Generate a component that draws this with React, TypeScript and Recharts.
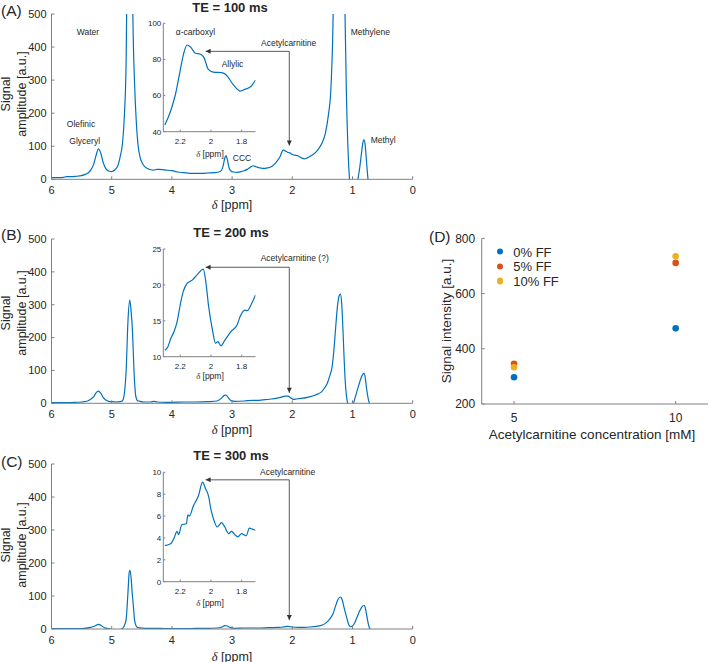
import React from "react";
import { LineChart, Line, XAxis, YAxis, ReferenceLine, ReferenceDot, ScatterChart, Scatter } from "recharts";

// [ppm, amplitude]
const spectrumA = [
  [6.0, 5], [5.9, 5], [5.8, 6], [5.75, 8], [5.7, 8], [5.6, 9], [5.5, 11], [5.45, 14], [5.4, 18], [5.35, 28],
  [5.3, 45], [5.26, 72], [5.22, 92], [5.18, 78], [5.14, 50], [5.1, 33], [5.05, 25], [5.0, 23], [4.95, 28],
  [4.9, 40], [4.86, 68], [4.82, 110], [4.79, 190], [4.76, 360], [4.74, 700], [4.71, 1500], [4.68, 1200],
  [4.65, 520], [4.62, 290], [4.59, 170], [4.56, 100], [4.53, 68], [4.48, 45], [4.42, 34], [4.35, 29],
  [4.3, 28], [4.25, 30], [4.2, 30], [4.15, 29], [4.1, 28], [4.0, 26], [3.9, 22], [3.8, 20], [3.7, 18],
  [3.6, 18], [3.5, 18], [3.4, 19], [3.3, 20], [3.22, 22], [3.18, 26], [3.15, 40], [3.12, 65], [3.1, 72],
  [3.08, 60], [3.05, 35], [3.02, 25], [2.98, 22], [2.92, 21], [2.85, 23], [2.8, 26], [2.75, 30], [2.7, 36],
  [2.65, 41], [2.6, 38], [2.55, 35], [2.5, 33], [2.45, 33], [2.4, 35], [2.35, 38], [2.3, 45], [2.25, 56],
  [2.2, 70], [2.17, 84], [2.15, 89], [2.12, 86], [2.08, 82], [2.04, 80], [2.0, 75], [1.96, 73], [1.92, 72],
  [1.88, 68], [1.84, 64], [1.8, 62], [1.76, 64], [1.7, 70], [1.65, 76], [1.6, 84], [1.55, 96], [1.5, 112],
  [1.45, 140], [1.4, 195], [1.36, 270], [1.33, 420], [1.3, 700], [1.25, 1400], [1.2, 2000], [1.16, 1200],
  [1.13, 560], [1.1, 250], [1.07, 70], [1.05, 0], [1.02, -60], [0.98, -80], [0.94, -40], [0.91, 0],
  [0.88, 35], [0.85, 80], [0.83, 108], [0.81, 119], [0.79, 105], [0.77, 60], [0.75, 15], [0.73, -20], [0.7, -50],
];

const spectrumB = [
  [6.0, 2], [5.8, 2], [5.6, 3], [5.5, 4], [5.4, 7], [5.35, 12], [5.3, 20], [5.26, 32], [5.22, 37], [5.18, 30],
  [5.14, 17], [5.1, 10], [5.05, 6], [5.0, 5], [4.92, 4], [4.86, 5], [4.82, 8], [4.79, 30], [4.76, 100],
  [4.73, 250], [4.7, 314], [4.68, 285], [4.655, 220], [4.63, 100], [4.6, 22], [4.57, 8], [4.53, 6], [4.45, 4],
  [4.35, 4], [4.3, 6], [4.25, 4], [4.1, 3], [4.0, 3], [3.8, 4], [3.6, 4], [3.4, 5], [3.25, 7], [3.18, 15],
  [3.13, 24], [3.1, 25], [3.06, 16], [3.02, 8], [2.95, 6], [2.8, 7], [2.65, 9], [2.55, 9], [2.45, 11],
  [2.35, 13], [2.25, 16], [2.18, 19], [2.12, 22], [2.07, 22], [2.03, 17], [1.98, 12], [1.93, 13], [1.85, 15],
  [1.75, 18], [1.65, 23], [1.58, 28], [1.52, 34], [1.47, 45], [1.42, 60], [1.38, 82], [1.34, 110], [1.31, 160],
  [1.28, 230], [1.25, 295], [1.22, 328], [1.2, 332], [1.18, 305], [1.16, 230], [1.14, 140], [1.12, 65],
  [1.1, 22], [1.08, 0], [1.05, -25], [1.02, -25], [0.99, -5], [0.96, 15], [0.92, 40], [0.88, 65], [0.84, 85],
  [0.81, 91], [0.79, 80], [0.77, 50], [0.74, 15], [0.72, 0], [0.7, -20],
];

const spectrumC = [
  [6.0, 1], [5.8, 1], [5.6, 1], [5.45, 2], [5.35, 5], [5.28, 9], [5.22, 14], [5.17, 10], [5.12, 4], [5.05, 1],
  [5.0, -2], [4.95, -6], [4.9, -6], [4.86, -2], [4.82, 2], [4.79, 10], [4.76, 30], [4.73, 110], [4.71, 170],
  [4.7, 178], [4.68, 160], [4.66, 110], [4.64, 70], [4.62, 27], [4.59, 8], [4.56, 4], [4.5, 3], [4.4, 2],
  [4.2, 2], [4.0, 1], [3.8, 1], [3.6, 2], [3.4, 2], [3.25, 3], [3.17, 6], [3.12, 10], [3.08, 9], [3.03, 4],
  [2.95, 2], [2.8, 3], [2.6, 3], [2.4, 4], [2.25, 5], [2.15, 6], [2.07, 8], [2.0, 6], [1.9, 5], [1.8, 5],
  [1.7, 6], [1.6, 8], [1.5, 12], [1.43, 20], [1.37, 32], [1.32, 48], [1.28, 70], [1.24, 90], [1.2, 97],
  [1.17, 88], [1.14, 65], [1.1, 37], [1.06, 12], [1.03, 7], [1.0, 9], [0.96, 20], [0.92, 38], [0.88, 55],
  [0.84, 68], [0.81, 72], [0.79, 66], [0.77, 48], [0.74, 18], [0.72, 4], [0.7, 0],
];

// zoomed 1.7-2.3 ppm region of each spectrum
const insetA = [
  [2.3, 43.7], [2.26, 52], [2.23, 61], [2.2, 74], [2.177, 83.4], [2.155, 88], [2.134, 87], [2.1, 83.4],
  [2.07, 83], [2.045, 81], [2.017, 74.5], [1.985, 73], [1.93, 72.7], [1.9, 71.4], [1.855, 66], [1.81, 62.5],
  [1.78, 63.4], [1.74, 65], [1.71, 68.6],
];
const insetB = [
  [2.3, 10.9], [2.28, 11.4], [2.26, 12.6], [2.24, 13.5], [2.22, 14.9], [2.2, 17.2], [2.18, 19.1], [2.155, 20.2],
  [2.12, 20.7], [2.09, 21.4], [2.05, 22.2], [2.035, 20.7], [2.015, 17], [1.99, 13.7], [1.97, 11.9], [1.955, 12.1],
  [1.935, 11.5], [1.915, 12.1], [1.87, 13.5], [1.83, 14.4], [1.81, 15.6], [1.78, 16.5], [1.765, 16.4],
  [1.735, 17.4], [1.71, 18.6],
];
const insetC = [
  [2.3, 3.3], [2.26, 3.5], [2.24, 4.0], [2.22, 4.6], [2.21, 4.3], [2.19, 5.2], [2.16, 5.3], [2.15, 6.1],
  [2.14, 6.0], [2.115, 6.9], [2.08, 7.9], [2.055, 9.1], [2.035, 8.5], [2.015, 7.8], [2.0, 6.6], [1.98, 5.6],
  [1.96, 5.0], [1.93, 5.4], [1.91, 5.0], [1.885, 4.4], [1.865, 4.6], [1.845, 4.3], [1.825, 4.1], [1.8, 4.4],
  [1.77, 4.2], [1.75, 4.9], [1.73, 4.8], [1.71, 4.7],
];

const ppmTicks = [0, 1, 2, 3, 4, 5, 6];
const ampTicks = [0, 100, 200, 300, 400, 500];
const insetPpmTicks = [2.2, 2, 1.8];

// panel D
const concentrations = [5, 10];
const ff0 = [297, 474];
const ff5 = [346, 711];
const ff10 = [333, 735];
const ffNames = ["0% FF", "5% FF", "10% FF"];
const ffColors = ["#0072BD", "#D95319", "#EDB120"];

const LINE = "#0072BD";
const AXIS = "#808080";
const TEXT = "#262626";
const ARROW = "#5a5a5a";
const FONT = "'Liberation Sans', Arial, Helvetica, sans-serif";

const rows = (pts: number[][]) => pts.map(([ppm, amp]) => ({ ppm, amp }));

const downHead = (p: any) => (
  <path d={`M${p.cx - 2.5},${p.cy - 5}L${p.cx + 2.5},${p.cy - 5}L${p.cx},${p.cy}Z`} fill="#333" />
);
const leftHead = (p: any) => (
  <path d={`M${p.cx + 5},${p.cy - 2.5}L${p.cx + 5},${p.cy + 2.5}L${p.cx},${p.cy}Z`} fill="#333" />
);

function Note({ x, y, size = 8.5, left = false, bold = false, children }: any) {
  return (
    <div
      style={{
        position: "absolute",
        left: x,
        top: y,
        transform: left ? "translate(0,-50%)" : "translate(-50%,-50%)",
        fontSize: size,
        lineHeight: 1,
        whiteSpace: "nowrap",
        color: TEXT,
        fontWeight: bold ? 700 : 400,
      }}
    >
      {children}
    </div>
  );
}

const Delta = () => <i style={{ fontFamily: "'Liberation Serif', serif" }}>δ</i>;

function Spectrum({ top, data, xAxisH, arrowY, arrowEnd }: any) {
  return (
    <div style={{ position: "absolute", left: 0, top }}>
      <LineChart width={420} height={200} data={rows(data)} margin={{ top: 14, right: 7.3, left: 0, bottom: 0 }}>
        <XAxis
          dataKey="ppm"
          type="number"
          domain={[0, 6]}
          ticks={ppmTicks}
          reversed
          allowDataOverflow
          height={xAxisH}
          stroke={AXIS}
          tickSize={-3}
          tickMargin={10}
          tick={{ fontSize: 11, fill: TEXT }}
        />
        <YAxis
          type="number"
          domain={[0, 500]}
          ticks={ampTicks}
          allowDataOverflow
          width={51.5}
          stroke={AXIS}
          tickSize={-3}
          tickMargin={8}
          tick={{ fontSize: 11, fill: TEXT }}
        />
        <ReferenceLine segment={[{ x: 2.05, y: arrowY }, { x: 2.05, y: arrowEnd }]} stroke={ARROW} ifOverflow="visible" />
        <ReferenceLine segment={[{ x: 2.05, y: arrowY }, { x: 3.44, y: arrowY }]} stroke={ARROW} ifOverflow="visible" />
        <ReferenceDot x={2.05} y={arrowEnd} ifOverflow="visible" shape={downHead} />
        <ReferenceDot x={3.44} y={arrowY} ifOverflow="visible" shape={leftHead} />
        <Line type="monotone" dataKey="amp" stroke={LINE} strokeWidth={1.2} dot={false} isAnimationActive={false} />
      </LineChart>
    </div>
  );
}

function Inset({ top, data, marginTop, domain, ticks }: any) {
  return (
    <div style={{ position: "absolute", left: 130, top }}>
      <LineChart width={135} height={135} data={rows(data)} margin={{ top: marginTop, right: 9.5, left: 0, bottom: 0 }}>
        <XAxis
          dataKey="ppm"
          type="number"
          domain={[1.71, 2.31]}
          ticks={insetPpmTicks}
          reversed
          allowDataOverflow
          height={18.3}
          stroke={AXIS}
          tickSize={-2}
          tickMargin={9}
          tick={{ fontSize: 8, fill: TEXT }}
        />
        <YAxis
          type="number"
          domain={domain}
          ticks={ticks}
          allowDataOverflow
          width={33.3}
          stroke={AXIS}
          tickSize={-2}
          tickMargin={4}
          tick={{ fontSize: 8, fill: TEXT }}
        />
        <Line type="monotone" dataKey="amp" stroke={LINE} strokeWidth={1.2} dot={false} isAnimationActive={false} />
      </LineChart>
    </div>
  );
}

function AmpLabel({ y }: { y: number }) {
  return (
    <div
      style={{
        position: "absolute",
        left: 14,
        top: y,
        transform: "translate(-50%,-50%) rotate(-90deg)",
        fontSize: 12.5,
        lineHeight: "16px",
        textAlign: "center",
        whiteSpace: "nowrap",
        color: TEXT,
      }}
    >
      Signal
      <br />
      amplitude [a.u.]
    </div>
  );
}

const ffSeries = [ff0, ff5, ff10].map((vals) => concentrations.map((c, i) => ({ conc: c, signal: vals[i] })));

export default function App() {
  return (
    <div style={{ position: "absolute", left: 0, top: 0, width: 709, height: 662, background: "#fff", fontFamily: FONT }}>
      <Spectrum top={0} data={spectrumA} xAxisH={20.7} arrowY={387} arrowEnd={102} />
      <Spectrum top={225} data={spectrumB} xAxisH={21.7} arrowY={414} arrowEnd={32} />
      <Spectrum top={450} data={spectrumC} xAxisH={21} arrowY={452} arrowEnd={27} />

      <Inset top={15} data={insetA} marginTop={8.3} domain={[40, 100]} ticks={[40, 60, 80, 100]} />
      <Inset top={240} data={insetB} marginTop={9} domain={[10, 25]} ticks={[10, 15, 20, 25]} />
      <Inset top={465} data={insetC} marginTop={7.3} domain={[0, 10]} ticks={[0, 2, 4, 6, 8, 10]} />

      <div style={{ position: "absolute", left: 440, top: 225 }}>
        <ScatterChart width={269} height={220} margin={{ top: 13.3, right: 1, left: 0, bottom: 0 }}>
          <XAxis
            dataKey="conc"
            type="number"
            domain={[4, 11]}
            ticks={[5, 10]}
            height={41}
            stroke={AXIS}
            tickSize={-3}
            tickMargin={12}
            tick={{ fontSize: 12, fill: TEXT }}
          />
          <YAxis
            dataKey="signal"
            type="number"
            domain={[200, 800]}
            ticks={[200, 400, 600, 800]}
            width={41.7}
            stroke={AXIS}
            tickSize={-3}
            tickMargin={9.5}
            tick={{ fontSize: 12, fill: TEXT }}
          />
          {ffSeries.map((d, i) => (
            <Scatter
              key={ffNames[i]}
              name={ffNames[i]}
              data={d}
              fill={ffColors[i]}
              isAnimationActive={false}
              shape={(p: any) => <circle cx={p.cx} cy={p.cy} r={3.3} fill={ffColors[i]} />}
            />
          ))}
        </ScatterChart>
      </div>

      {/* panel labels and titles */}
      <Note x={1} y={11} size={15.5} left>(A)</Note>
      <Note x={1} y={235} size={15.5} left>(B)</Note>
      <Note x={1} y={461.7} size={15.5} left>(C)</Note>
      <Note x={429} y={237} size={15.5} left>(D)</Note>
      <Note x={230} y={7} size={13} bold>TE = 100 ms</Note>
      <Note x={231} y={231.7} size={13} bold>TE = 200 ms</Note>
      <Note x={231} y={455} size={13} bold>TE = 300 ms</Note>

      <AmpLabel y={94} />
      <AmpLabel y={313} />
      <AmpLabel y={545} />

      <Note x={232} y={204.5} size={12.5}><Delta /> [ppm]</Note>
      <Note x={232} y={430} size={12.5}><Delta /> [ppm]</Note>
      <Note x={232} y={656.5} size={12.5}><Delta /> [ppm]</Note>
      <Note x={210} y={154} size={8.5}><Delta /> [ppm]</Note>
      <Note x={210} y={375.7} size={8.5}><Delta /> [ppm]</Note>
      <Note x={210} y={602.7} size={8.5}><Delta /> [ppm]</Note>

      {/* peak annotations */}
      <Note x={88} y={31.7}>Water</Note>
      <Note x={81} y={124}>Olefinic</Note>
      <Note x={84.7} y={140.7}>Glyceryl</Note>
      <Note x={195.5} y={32.3}>α-carboxyl</Note>
      <Note x={232.5} y={64.3}>Allylic</Note>
      <Note x={261} y={43.3} left>Acetylcarnitine</Note>
      <Note x={242} y={158.3}>CCC</Note>
      <Note x={350.7} y={31.7} left>Methylene</Note>
      <Note x={370.7} y={140} left>Methyl</Note>
      <Note x={260.7} y={258.3} left>Acetylcarnitine (?)</Note>
      <Note x={260} y={471.7} left>Acetylcarnitine</Note>

      {/* panel D legend and axis titles */}
      {ffNames.map((n, i) => (
        <div key={n} style={{ position: "absolute", left: 496.7, top: 251.7 + i * 14.7, transform: "translate(0,-50%)", display: "flex", alignItems: "center", fontSize: 13, lineHeight: 1, color: TEXT }}>
          <span style={{ width: 6.6, height: 6.6, borderRadius: "50%", background: ffColors[i], display: "inline-block", marginRight: 10 }} />
          {n}
        </div>
      ))}
      <div
        style={{
          position: "absolute",
          left: 447,
          top: 321,
          transform: "translate(-50%,-50%) rotate(-90deg)",
          fontSize: 13.5,
          lineHeight: 1,
          whiteSpace: "nowrap",
          color: TEXT,
        }}
      >
        Signal intensity [a.u.]
      </div>
      <Note x={592} y={434.5} size={13.5}>Acetylcarnitine concentration [mM]</Note>
    </div>
  );
}
